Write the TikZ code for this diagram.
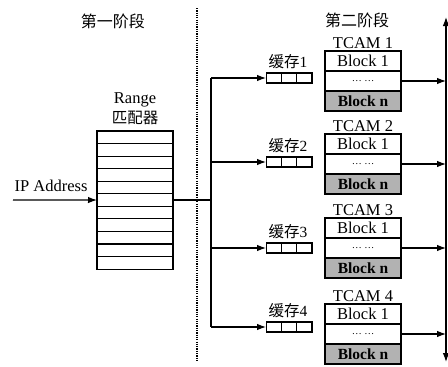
\documentclass[tikz,border=0pt]{standalone}
\usepackage{fontspec}
\setmainfont{Liberation Serif}
\newfontfamily\cjkfont{Noto Sans CJK SC}
\usepackage{tikz}
\usetikzlibrary{arrows.meta,positioning,calc}

\begin{document}
\begin{tikzpicture}[
    x=1pt, y=-1pt,
    font=\fontsize{16.5}{20}\selectfont,
    >={Latex[length=9pt,width=6.5pt]},
    line width=1.1pt,
    rangerow/.style={rectangle, draw, minimum width=76pt, minimum height=12.55pt, inner sep=0pt, outer sep=0pt},
    block/.style={rectangle, draw, minimum width=76pt, minimum height=20pt, inner sep=0pt, outer sep=0pt},
    lastblock/.style={block, fill=black!30, font=\fontsize{15.5}{18}\selectfont\bfseries},
    dotsrow/.style={block, font=\fontsize{10}{11}\selectfont},
    cell/.style={rectangle, draw, minimum width=15.3pt, minimum height=10pt, inner sep=0pt, outer sep=0pt},
    cjk/.style={font=\fontsize{16}{18}\cjkfont},
    flow/.style={->, draw=black, line width=1.1pt},
    stagesep/.style={draw, line width=1.3pt, dash pattern=on 1.2pt off 1.1pt}
]
    \useasboundingbox (0,0) rectangle (448,367);

    % stage titles and separator
    \node[cjk] (stage1) at (113,21) {第一阶段};
    \node[cjk] (stage2) at (357,20) {第二阶段};
    \coordinate (septop) at (197,8);
    \coordinate (sepbot) at (197,362);
    \draw[stagesep] (septop) -- (sepbot);

    % range matcher
    \foreach \k in {1,...,11}
        \node[rangerow] (r\k) at (135,{131+12.55*(\k-0.5)}) {};
    \node[align=center, inner sep=1pt, above=5pt of r1] (rangelbl) {Range\\{\cjkfont\fontsize{15.5}{18}\selectfont 匹配器}};

    \coordinate (ipstart) at (13,200);
    \node (iplbl) at (51,186) {IP Address};
    \draw[flow] (ipstart) -- (r6.west);

    % buffers
    \foreach \i/\y in {1/78,2/162,3/248,4/327} {
        \node[cell] (buf\i-1) at (273.7,\y) {};
        \node[cell, right=0pt of buf\i-1] (buf\i-2) {};
        \node[cell, right=0pt of buf\i-2] (buf\i-3) {};
        \node[inner sep=1pt, above=3pt of buf\i-2, xshift=-1pt, font=\fontsize{15.5}{17}\selectfont] (buflbl\i) {{\cjkfont 缓存}\i};
    }

    % TCAMs
    \foreach \i/\y in {1/81,2/164,3/248,4/334} {
        \node[dotsrow] (mid\i) at (363,\y) {\dots\ \dots};
        \node[block, above=0pt of mid\i] (top\i) {Block 1};
        \node[lastblock, below=0pt of mid\i] (bot\i) {Block n};
        \node[inner sep=1pt, above=1pt of top\i] (tcam\i) {TCAM \i};
    }

    % fan-out to buffers
    \coordinate (busL) at (211,0);
    \draw (r6.east) -- (r6.east -| busL);
    \draw (buf1-1.west -| busL) -- (buf4-1.west -| busL);
    \foreach \i in {1,...,4}
        \draw[flow] (buf\i-1.west -| busL) -- (buf\i-1.west);

    % result bus
    \coordinate (outtop) at (446,17);
    \coordinate (outbot) at (446,362);
    \draw[<->] (outtop) -- (outbot);
    \foreach \i in {1,...,4}
        \draw[flow] (mid\i.east) -- (mid\i.east -| outtop);

\end{tikzpicture}
\end{document}
